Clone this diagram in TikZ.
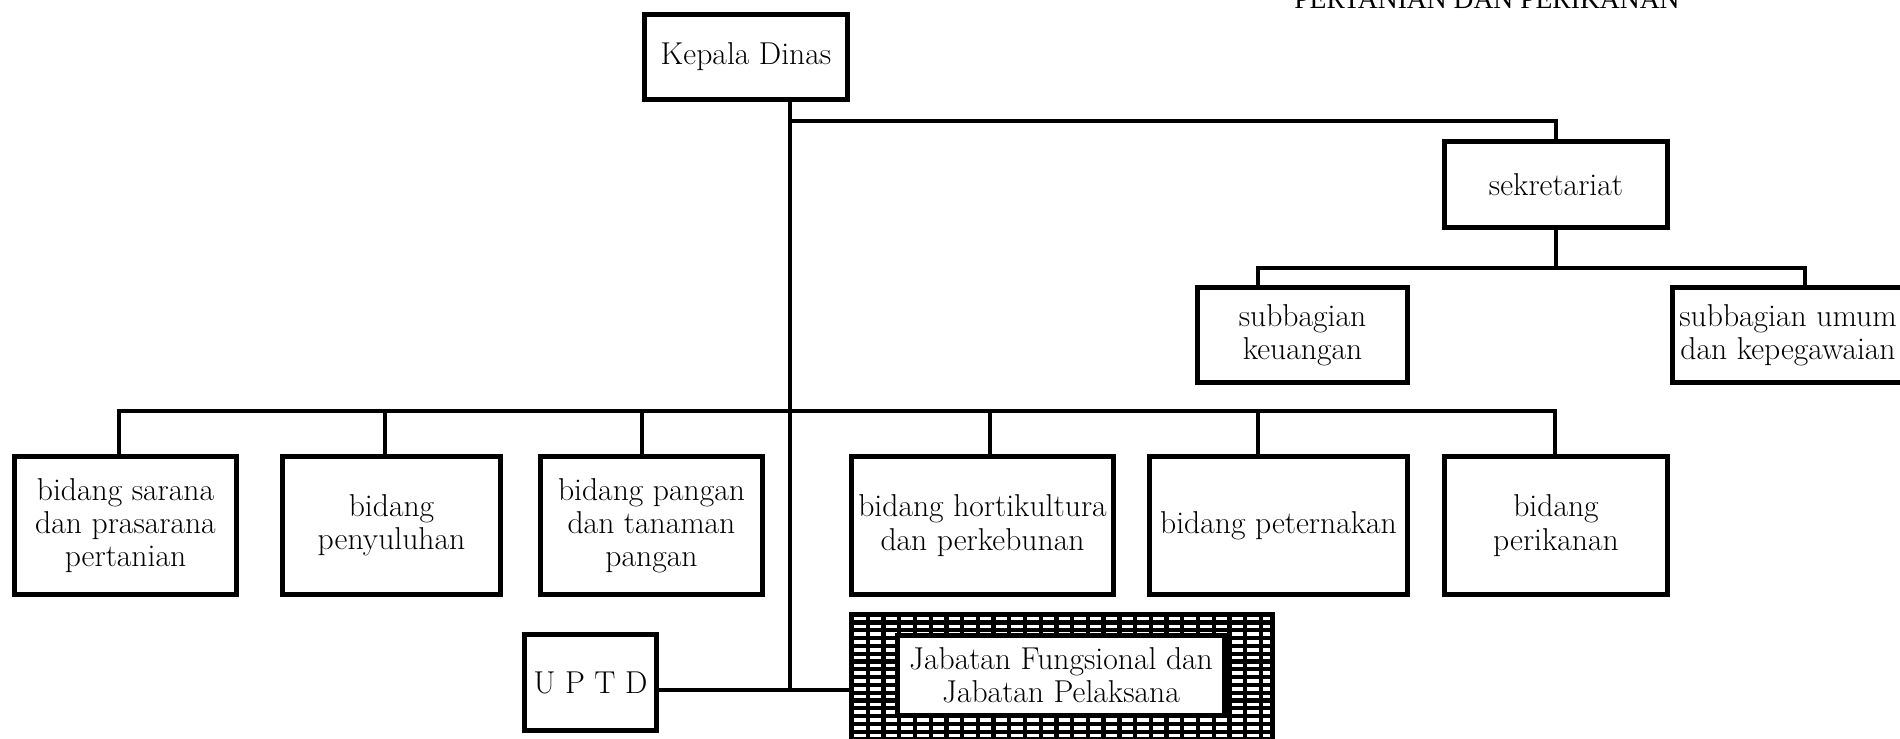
\documentclass[tikz,border=0pt]{standalone}
\usepackage{fontspec}
\usepackage{tikz}
\usetikzlibrary{calc,positioning}
\newfontfamily\titlefont{Liberation Serif}
\tikzset{
  every picture/.append style={line cap=rect,line join=miter},
  org box/.style={draw,line width=2.8pt,fill=white,align=center,inner sep=0pt,
    font=\fontsize{18}{18.9}\selectfont},
  org bidang/.style={org box,minimum height=2.76cm},
  org link/.style={line width=2.8pt},
  org hatch/.style={white,line width=2.05pt,line cap=butt,dash pattern=on 6.5pt off 2.45pt},
  org note/.style={font=\titlefont\fontsize{15.7}{18}\selectfont,inner sep=0pt,anchor=base west}
}
\begin{document}
\begin{tikzpicture}[x=0.02cm,y=-0.02cm]
    \useasboundingbox (0,0) rectangle (1900,738);
    \clip (0,0) rectangle (1900,738);
    \node[org note] (judul) at (1294,8) {PERTANIAN DAN PERIKANAN};
    \node[org box,minimum width=4.06cm,minimum height=1.70cm] (kepala) at (746,57) {Kepala Dinas};
    \node[org box,minimum width=4.46cm,minimum height=1.72cm] (sekretariat) at (1556,184.5) {sekretariat};
    \node[org box,minimum width=4.20cm,minimum height=1.90cm] (keuangan) at (1302.5,335) {subbagian\\keuangan};
    \node[org box,minimum width=4.62cm,minimum height=1.90cm] (umum) at (1788,335) {subbagian umum\\dan kepegawaian};
    \node[org bidang,minimum width=4.44cm] (sarana) at (125.5,525.5) {bidang sarana\\dan prasarana\\pertanian};
    \node[org bidang,minimum width=4.36cm] (penyuluhan) at (391.5,525.5) {bidang\\penyuluhan};
    \node[org bidang,minimum width=4.44cm] (pangan) at (651.5,525.5) {bidang pangan\\dan tanaman\\pangan};
    \node[org bidang,minimum width=5.24cm] (horti) at (982.5,525.5) {bidang hortikultura\\dan perkebunan};
    \node[org bidang,minimum width=5.16cm] (ternak) at (1278.5,525.5) {bidang peternakan};
    \node[org bidang,minimum width=4.46cm] (ikan) at (1556,525.5) {bidang\\perikanan};
    \node[org box,minimum width=2.64cm,minimum height=1.92cm] (uptd) at (590.5,682.5) {U P T D};
    % hatched frame round the functional posts
    \node[minimum width=8.52cm,minimum height=2.56cm,inner sep=0pt] (jfpbg) at (1062,676) {};
    \fill (jfpbg.south west) rectangle (jfpbg.north east);
    \foreach \r in {0,...,16}
      \draw[org hatch] ($(jfpbg.north west)+(5.5,7+7.8*\r)$) -- ($(jfpbg.north east)+(-5,7+7.8*\r)$);
    \node[org box,minimum width=6.54cm,minimum height=1.60cm] (jfp) at (1061,675.5) {Jabatan Fungsional dan\\Jabatan Pelaksana};
    \coordinate (tk) at (790,121);
    \coordinate (tu) at (790,690);
    \coordinate (bl) at (119,411);
    \coordinate (br) at (1555,411);
    \coordinate (sl) at (1258,268);
    \coordinate (sr) at (1805,268);
    \draw[org link] (kepala.south -| tk) -- (tu);
    \draw[org link] (tk) -| (sekretariat.north);
    \draw[org link] (sekretariat.south) -- (sekretariat.south |- sl);
    \draw[org link] (sl |- keuangan.north) -- (sl) -- (sr) -- (sr |- umum.north);
    \draw[org link] (bl |- sarana.north) -- (bl) -- (br) -- (br |- ikan.north);
    \foreach \nm/\cx in {penyuluhan/385,pangan/642,horti/990,ternak/1258}
      \draw[org link] (\cx,411) -- (\nm.north -| {(\cx,411)});
    \draw[org link] (uptd.east |- tu) -- (tu) -- (tu -| jfpbg.west);
\end{tikzpicture}
\end{document}
